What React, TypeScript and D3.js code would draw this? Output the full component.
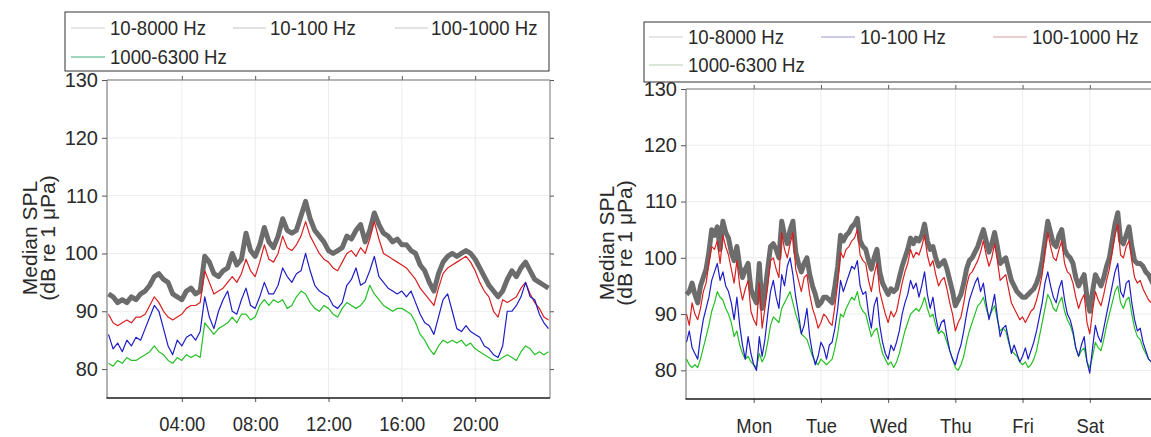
import React, { useEffect, useRef } from 'react';
import * as d3 from 'd3';

// band names and drawing style
const bandNames = ['10-8000 Hz', '10-100 Hz', '100-1000 Hz', '1000-6300 Hz'];
const bandColors = ['#6c6c6c', '#1d1dc6', '#d91f1f', '#25c025'];
const bandWidths = [5, 1.2, 1.2, 1.2];
const drawOrder = [0, 3, 2, 1];

const yTicks = [80, 90, 100, 110, 120, 130];

// ---- diel panel (median per time of day, 15 min steps) ----
const dayStepHours = 0.25;
const dayBroad = [
  93, 92.5, 91.5, 92, 91.5, 92.5, 92, 93, 93.5, 94.5, 96, 96.5,
  95.5, 95, 93, 92.5, 92, 93.5, 94, 93, 93.5, 99.5, 98.5, 96.5,
  96, 97, 97.5, 100, 98, 99, 103.5, 100.5, 99.5, 101.5, 104.5, 102,
  101, 103, 106, 104, 103.5, 104, 106.5, 109, 106, 104, 103, 102,
  100.5, 100, 100.5, 101, 103, 102.5, 104, 105, 102, 104, 107, 105,
  103.5, 103, 102, 102.5, 101.5, 101.5, 100.5, 100, 98, 97, 95, 93.5,
  96.5, 98.5, 99.5, 100, 99.5, 100, 100.5, 100, 99, 97.5, 96, 94.5,
  93.5, 92.5, 93.5, 95.5, 97, 96, 97.5, 98.5, 97, 95.5, 95, 94.5,
  94,
];
const dayLow = [
  86, 83.5, 84.5, 83, 85, 84, 85.5, 85, 87, 89, 91, 90,
  87, 84, 82.5, 85, 84, 85.5, 86, 85, 86.5, 92.5, 89, 87,
  90, 92, 93.5, 90, 89.5, 92, 94, 91, 90.5, 92.5, 95, 93,
  93, 94.5, 97.5, 96, 95, 96.5, 97, 100, 97, 94.5, 93.5, 93,
  92.5, 91, 90.5, 91.5, 94.5, 95.5, 97.5, 94.5, 95, 97, 99.5, 96,
  95, 94, 93.5, 93, 93.5, 92.5, 93.5, 91.5, 89.5, 88, 87.5, 86,
  89, 92, 93, 90, 87, 86.5, 87.5, 86.5, 86, 85.5, 84, 83.5,
  82.5, 82, 84, 90, 90, 91, 92.5, 95, 92.5, 92, 89.5, 88,
  87,
];
const dayMid = [
  89.5, 88, 87.5, 88, 88.5, 88, 89, 89, 89.5, 91, 92.5, 91.5,
  90, 89, 88.5, 89, 89.5, 90.5, 91, 91, 91.5, 97, 95, 93,
  93.5, 94, 95, 96, 95, 96.5, 99, 97, 96, 98.5, 101.5, 99,
  98.5, 100, 103, 101, 100.5, 101.5, 103, 105.5, 103, 101.5, 100, 99,
  98.5, 97.5, 97, 98.5, 100, 100.5, 99.5, 101, 100, 102.5, 105.5, 102.5,
  100, 99.5, 99, 98.5, 98, 97.5, 96.5, 95.5, 94, 93, 92, 91,
  94, 96.5, 97.5, 98, 98.5, 99, 99.5, 98.5, 97, 95, 93.5, 92.5,
  90, 89, 92, 91.5, 92, 92.5, 94, 95, 93, 91.5, 90.5, 89,
  88.5,
];
const dayHigh = [
  81, 80.5, 81.5, 81, 82, 81.5, 81.5, 82, 82.5, 83, 84, 83,
  82.5, 81.5, 81, 82, 81.5, 82.5, 82, 82.5, 82, 88, 87, 86,
  87, 87.5, 88, 89, 88, 89.5, 89.5, 88.5, 89, 91, 92, 91,
  92, 91.5, 92, 90.5, 91, 92.5, 93.5, 93, 91.5, 90.5, 90, 91,
  90.5, 89.5, 89, 90.5, 91.5, 91, 90.5, 91, 92, 94.5, 93, 92,
  91, 90.5, 90, 90.5, 90.5, 90, 89.5, 88, 86, 85, 83.5, 82.5,
  84, 85, 84.5, 85, 84.5, 85, 84, 84.5, 83.5, 83, 82.5, 82,
  81.5, 81.5, 82, 82.5, 82, 81.5, 83, 84, 83.5, 82.5, 83, 82.5,
  83,
];
const dayTickHours = [4, 8, 12, 16, 20];
const dayTickLabels = ['04:00', '08:00', '12:00', '16:00', '20:00'];

// ---- weekly panel (hourly medians, Sunday 00:00 onwards) ----
const weekStepHours = 1;
const weekBroad = [
  93.5, 94, 95.5, 93.5, 92, 95, 96.5, 98, 101, 105, 104, 105.5,
  101.5, 106.5, 104.5, 103.5, 101, 99.5, 102, 98.5, 96.5, 98, 99, 94.5,
  93, 92, 99, 91, 94, 98, 102, 102.5, 101.5, 100, 106.5, 104,
  102.5, 105, 106.5, 101, 99, 97.5, 99, 100, 97, 95, 93.5, 91.5,
  92, 93, 93, 92.5, 92, 95, 98.5, 104, 103, 104, 104.5, 105.5,
  106, 107, 103, 102, 101.5, 99.5, 98, 100, 101.5, 97.5, 95.5, 94.5,
  93.5, 94.5, 94, 94.5, 96.5, 98.5, 100, 101.5, 103.5, 102.5, 103.5, 103,
  104, 106, 103, 101.5, 102, 100, 98.5, 99, 99.5, 98, 96, 94,
  91.5, 92.5, 93.5, 95.5, 98, 99.5, 100, 101, 102, 103.5, 105, 103,
  101, 102.5, 104.5, 102, 99, 99.5, 100, 98, 96, 95, 94, 93.5,
  93, 93, 93.5, 94, 94.5, 95.5, 97, 99.5, 103, 106.5, 104.5, 102.5,
  102, 104, 105, 101.5, 100.5, 100, 99, 96.5, 95, 96, 97, 93,
  90.5, 94, 97, 96, 95, 96.5, 98.5, 100, 103, 106, 108, 103,
  102.5, 104, 105.5, 102, 99.5, 99, 99, 98.5, 97.5, 97, 96, 95,
  94.5,
];
const weekLow = [
  85, 87, 84, 83, 82, 86, 89, 91, 93, 96, 97.5, 99,
  96, 97.5, 95, 94, 92, 89, 93, 88, 84.5, 82, 86, 83,
  81, 80, 86, 82.5, 85.5, 90, 94, 96, 93, 91, 97, 95,
  98.5, 100, 97, 93, 90, 86.5, 88, 91, 86, 83, 81, 82.5,
  85, 84, 82, 84.5, 85, 87.5, 91, 96, 94, 95.5, 97, 98.5,
  98, 99.5, 95, 93.5, 94, 90, 87.5, 91.5, 93, 88, 85, 83,
  82, 84.5, 83.5, 85, 87, 90, 92, 93.5, 96, 94.5, 95.5, 93,
  95, 97.5, 93.5, 91, 93, 89.5, 87, 88.5, 89, 86, 83.5, 82,
  81, 83, 84.5, 87, 90, 92.5, 94, 95.5, 96.5, 94, 95.5, 92,
  89, 91, 93.5, 89.5, 86, 87.5, 88, 85.5, 83, 84.5, 83, 81.5,
  82.5, 84, 82, 83.5, 85, 87, 89.5, 92, 95.5, 97.5, 95, 93,
  92, 94.5, 96, 92.5, 90, 89, 87, 84, 82.5, 84.5, 86, 81.5,
  79.5, 84, 88, 86, 85, 87.5, 90, 92.5, 95, 97.5, 99, 94,
  93, 95.5, 96, 92, 89, 87, 87.5, 85, 83.5, 82, 81.5, 82,
  83,
];
const weekMid = [
  90, 88, 92, 90, 89, 91, 94, 95.5, 99, 102, 101.5, 103,
  99, 104, 102, 100.5, 98, 95.5, 99.5, 95, 92.5, 94.5, 96, 90.5,
  89, 88, 95.5, 87.5, 91, 95, 99.5, 100, 98, 96.5, 104.5, 101.5,
  100, 102.5, 104.5, 98, 96, 94, 96.5, 97, 93.5, 91, 89.5, 87.5,
  88.5, 90, 89.5, 88.5, 88, 91.5, 95.5, 101, 100, 101.5, 102, 103,
  103.5, 105, 100.5, 99.5, 99, 96, 94, 97, 99, 94, 92, 90,
  88.5, 90.5, 89.5, 90.5, 93, 95.5, 97.5, 99, 101.5, 100, 101, 100.5,
  102, 104, 100.5, 98.5, 99.5, 97, 95, 96, 96.5, 94.5, 92, 90,
  87, 88.5, 89.5, 92, 95, 97, 97.5, 98.5, 99.5, 101, 103, 100.5,
  98.5, 100, 102.5, 99.5, 96, 96.5, 97, 94.5, 92, 91, 90, 89,
  89.5, 88.5, 89.5, 90.5, 91, 92.5, 94.5, 97, 101, 104.5, 102, 100,
  99.5, 101.5, 103, 99, 97.5, 97, 95.5, 93, 91, 92.5, 93.5, 88.5,
  86.5, 90.5, 94, 92.5, 91.5, 93.5, 96, 98, 101, 104, 106, 100.5,
  100, 102, 103, 99.5, 96.5, 95.5, 96, 94.5, 93.5, 92.5, 92, 91,
  90.5,
];
const weekHigh = [
  82, 81, 80.5, 81, 80.5, 82, 84, 86, 88, 90.5, 92, 94,
  93, 92.5, 91, 90, 88.5, 86, 87, 84.5, 83, 82, 82.5, 81.5,
  81, 80.5, 83, 81.5, 82.5, 85, 88, 89.5, 89, 88.5, 91, 92,
  93, 94, 92, 90, 88.5, 86.5, 86, 85.5, 84, 82.5, 81.5, 81,
  82, 81.5, 81, 81.5, 82, 84, 86.5, 90, 89.5, 91, 92, 93,
  92.5, 94, 91.5, 90.5, 90, 88, 86, 87, 87.5, 85, 83, 82,
  81, 81.5, 80.5, 81.5, 83, 85, 87, 88.5, 90, 90.5, 91, 90.5,
  91.5, 93, 91, 89.5, 90, 88, 86.5, 87, 86.5, 85, 83.5, 82,
  80.5, 80, 81, 82.5, 85, 87, 88.5, 90, 91.5, 92, 93, 91,
  89.5, 90.5, 91.5, 89, 87, 87.5, 87, 85, 83.5, 83, 82.5, 81.5,
  81, 81.5, 80.5, 81, 82, 83.5, 86, 88.5, 91, 93.5, 92.5, 91,
  90.5, 92, 93, 90.5, 89, 88, 86.5, 84, 82.5, 83.5, 84, 81.5,
  80.5, 82.5, 85, 84, 83.5, 85.5, 88, 90, 92, 94, 95, 92,
  91, 92.5, 93, 90, 87.5, 86, 85.5, 84, 83, 82, 81.5, 81,
  81.5,
];
const weekTickHours = [24, 48, 72, 96, 120, 144];
const weekTickLabels = ['Mon', 'Tue', 'Wed', 'Thu', 'Fri', 'Sat'];

// legend sample colours as they appear in each legend box
const dayLegendColors = ['#cfcfcf', '#c3c3c3', '#c6c6c6', '#3aa97a'];
const weekLegendColors = ['#cdcdcd', '#9999d6', '#d89c9c', '#b5ceb5'];

const FONT = "'Liberation Sans', Arial, Helvetica, sans-serif";
const INK = '#2a2a2a';

function addText(g: any, x: number, y: number, str: string, size: number, anchor = 'start', sx = 1, rot = 0) {
  g.append('text')
    .attr('transform', `translate(${x},${y}) rotate(${rot}) scale(${sx},1)`)
    .attr('text-anchor', anchor)
    .attr('font-family', FONT)
    .attr('font-size', size)
    .attr('fill', INK)
    .text(str);
}

function drawPanel(svg: any, p: any) {
  const g = svg.append('g');
  const [fl, fr, ft, fb] = p.frame;

  const x = d3.scaleLinear().domain(p.xDomain).range(p.xRange);
  const y = d3.scaleLinear().domain([75, 130]).range(p.yRange);

  // grid
  g.append('g').selectAll('line.gx')
    .data(p.tickHours).enter().append('line')
    .attr('x1', (d: number) => x(d)).attr('x2', (d: number) => x(d))
    .attr('y1', ft).attr('y2', fb)
    .attr('stroke', '#ececec').attr('stroke-width', 1);
  g.append('g').selectAll('line.gy')
    .data(yTicks).enter().append('line')
    .attr('x1', fl).attr('x2', fr)
    .attr('y1', (d: number) => y(d)).attr('y2', (d: number) => y(d))
    .attr('stroke', '#ececec').attr('stroke-width', 1);

  // series
  const line = d3.line<number>()
    .x((d, i) => x(i * p.step))
    .y((d) => y(d));
  drawOrder.forEach((k) => {
    g.append('path')
      .attr('d', line(p.series[k]))
      .attr('fill', 'none')
      .attr('stroke', bandColors[k])
      .attr('stroke-width', bandWidths[k])
      .attr('stroke-linejoin', 'round');
  });

  // frame: top / right plain, left / bottom with labels
  g.append('g')
    .attr('transform', `translate(0,${ft})`)
    .call(d3.axisTop(x).tickValues(p.tickHours).tickFormat(() => '').tickSize(4).tickSizeOuter(0));
  g.append('g')
    .attr('transform', `translate(${fr},0)`)
    .call(d3.axisRight(y).tickValues(yTicks).tickFormat(() => '').tickSize(4).tickSizeOuter(0));

  const yAxis = g.append('g')
    .attr('transform', `translate(${fl},0)`)
    .call(d3.axisLeft(y).tickValues(yTicks).tickSize(5).tickPadding(4).tickSizeOuter(0));

  const xAxis = g.append('g')
    .attr('transform', `translate(0,${fb})`)
    .call(d3.axisBottom(x).tickValues(p.tickHours)
      .tickFormat((d: any, i: number) => p.tickLabels[i])
      .tickSize(4).tickPadding(p.xLabelPad).tickSizeOuter(0));

  g.selectAll('.domain').remove();
  g.selectAll('.tick line').attr('stroke', '#555');
  yAxis.selectAll('text').attr('font-size', 20).attr('font-family', FONT).attr('fill', INK);
  xAxis.selectAll('text').attr('font-size', 20).attr('font-family', FONT).attr('fill', INK)
    .attr('transform', 'scale(0.92,1)');

  // box
  g.append('line').attr('x1', fl).attr('x2', fr).attr('y1', ft).attr('y2', ft).attr('stroke', '#777');
  g.append('line').attr('x1', fr).attr('x2', fr).attr('y1', ft).attr('y2', fb).attr('stroke', '#777');
  g.append('line').attr('x1', fl).attr('x2', fl).attr('y1', ft).attr('y2', fb).attr('stroke', '#666');
  g.append('line').attr('x1', fl - 0.5).attr('x2', fr).attr('y1', fb).attr('y2', fb)
    .attr('stroke', '#1a1a1a').attr('stroke-width', 1.6);

  // y title
  addText(g, p.titleX[0], p.titleY, 'Median SPL', 21, 'middle', 1, -90);
  addText(g, p.titleX[1], p.titleY, '(dB re 1 \u03bcPa)', 21, 'middle', 1, -90);

  // legend
  const L = p.legend;
  g.append('rect')
    .attr('x', L.box[0]).attr('y', L.box[1]).attr('width', L.box[2]).attr('height', L.box[3])
    .attr('fill', '#fff').attr('stroke', '#333').attr('stroke-width', 1);
  bandNames.forEach((name, k) => {
    const [sx0, sx1, tx, cy] = L.items[k];
    g.append('line')
      .attr('x1', sx0).attr('x2', sx1).attr('y1', cy).attr('y2', cy)
      .attr('stroke', L.colors[k]).attr('stroke-width', 1.2);
    addText(g, tx, cy + 7, name, 20, 'start', 0.93);
  });
}

export default function App() {
  const ref = useRef<SVGSVGElement>(null);

  useEffect(() => {
    const svg = d3.select(ref.current);
    svg.selectAll('*').remove();

    drawPanel(svg, {
      frame: [107, 550, 80, 398],
      xDomain: [0, 24],
      xRange: [108.5, 548.5],
      yRange: [398, 80],
      step: dayStepHours,
      series: [dayBroad, dayLow, dayMid, dayHigh],
      tickHours: dayTickHours,
      tickLabels: dayTickLabels,
      xLabelPad: 15,
      titleX: [37, 55],
      titleY: 238,
      legend: {
        box: [65, 12, 484, 59],
        colors: dayLegendColors,
        items: [
          [71, 105, 110, 28],
          [233, 266, 270, 28],
          [395, 428, 431, 28],
          [71, 105, 110, 57],
        ],
      },
    });

    drawPanel(svg, {
      frame: [686, 1157, 89, 399],
      xDomain: [0, 168],
      xRange: [686.5, 1157],
      yRange: [398.5, 89],
      step: weekStepHours,
      series: [weekBroad, weekLow, weekMid, weekHigh],
      tickHours: weekTickHours,
      tickLabels: weekTickLabels,
      xLabelPad: 16,
      titleX: [614, 632],
      titleY: 243,
      legend: {
        box: [644, 22, 520, 60],
        colors: weekLegendColors,
        items: [
          [649, 683, 688, 37],
          [821, 855, 860, 37],
          [993, 1027, 1032, 37],
          [649, 683, 688, 65],
        ],
      },
    });
  }, []);

  return (
    <svg
      ref={ref}
      width={1151}
      height={437}
      style={{ position: 'absolute', left: 0, top: 0, background: '#fff' }}
    />
  );
}
